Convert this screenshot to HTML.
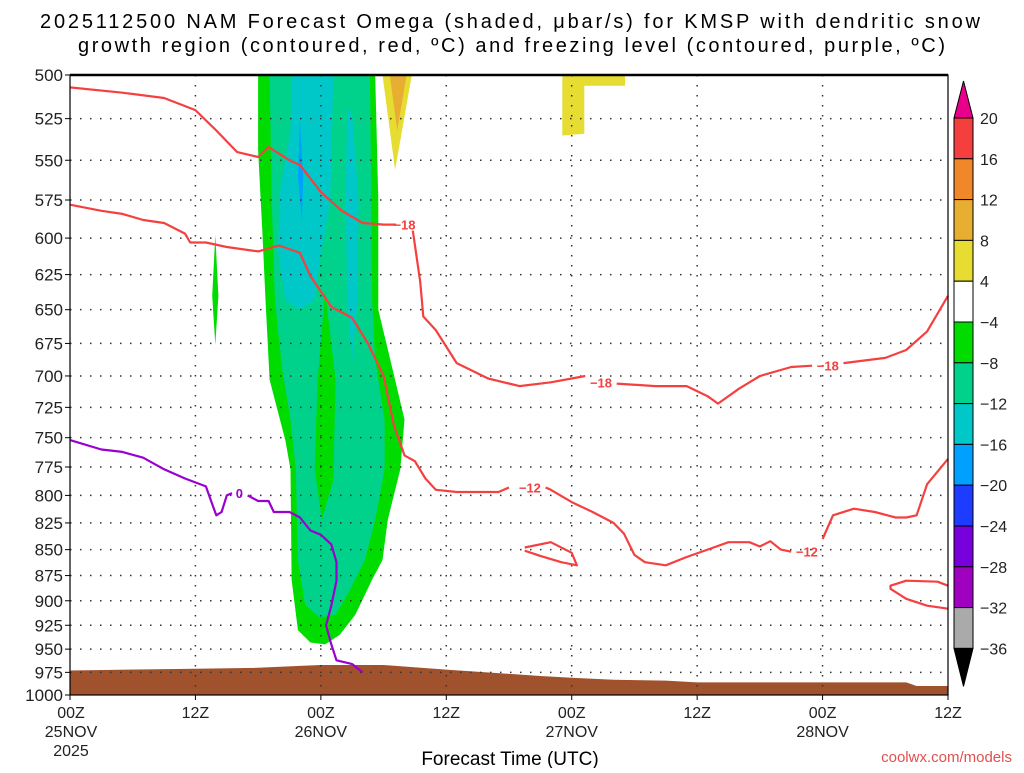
<!DOCTYPE html>
<html><head><meta charset="utf-8"><style>
body{margin:0;background:#fff;width:1024px;height:768px;overflow:hidden}
svg{font-family:"Liberation Sans",sans-serif}
</style></head><body>
<svg id="chart" width="1024" height="768" viewBox="0 0 1024 768" xmlns="http://www.w3.org/2000/svg">
<text x="40" y="28" font-size="20" textLength="940" lengthAdjust="spacing">2025112500 NAM Forecast Omega (shaded, μbar/s) for KMSP with dendritic snow</text>
<text x="78" y="52" font-size="20" textLength="867" lengthAdjust="spacing">growth region (contoured, red, ºC) and freezing level (contoured, purple, ºC)</text>
<g id="shade"></g><g id="terrain"></g><g id="grid"></g><g id="lines"></g><g id="axes"></g><g id="cbar"></g>
<text x="510" y="765" font-size="19" text-anchor="middle">Forecast Time (UTC)</text>
<text x="1012" y="762" font-size="15" fill="#e05050" text-anchor="end">coolwx.com/models</text>
</svg>
<script>
const pressureTicks=[500,525,550,575,600,625,650,675,700,725,750,775,800,825,850,875,900,925,950,975,1000];
const timeTicks=[0,12,24,36,48,60,72,84];
const timeLabels=[["00Z","25NOV","2025"],["12Z"],["00Z","26NOV"],["12Z"],["00Z","27NOV"],["12Z"],["00Z","28NOV"],["12Z"]];
const cbarLevels=[20,16,12,8,4,-4,-8,-12,-16,-20,-24,-28,-32,-36];
const cbarColors=["#f53f3f","#f0882a","#e8ae32","#e6dc32","#ffffff","#00dc00","#00d28c","#00c8c8","#00a0ff","#1e3cff","#7800dc","#a000c0","#aaaaaa"];
const shadeGreen=[[18,500],[29.2,500],[29.5,575],[29.5,650],[31.1,703],[32,735],[31.6,777],[30.4,822],[29.9,860],[28.9,879],[27.3,914],[25.8,935],[24.4,945],[23,943],[21.8,930],[21.2,879],[21.1,777],[20.6,752],[19.1,703],[18.7,643],[18.4,595],[18,544]];
const shadeGreenStrip=[[13.9,598],[14.2,640],[13.9,676],[13.6,640]];
const shadeSeagreen=[[19.1,500],[28.7,500],[28.9,643],[29.2,688],[30.1,735],[30.1,777],[29.2,822],[28.2,860],[26.8,889],[25.4,914],[23.9,917],[22.5,904],[21.8,860],[21.6,777],[21.1,735],[20.3,695],[19.6,643],[19.3,575]];
const shadeGreenInner=[[24.4,636],[25.4,703],[25.2,786],[24.1,822],[23.4,777],[23.7,703]];
const shadeCyan1=[[21.2,500],[25.2,500],[24.9,575],[23.9,615],[23.4,643],[22,650],[20.6,643],[19.9,608],[20.1,569],[21.1,532]];
const shadeCyan2=[[26.5,518],[27,523],[27.6,575],[27.5,643],[27,688],[26.5,643],[26.4,575]];
const shadeSky=[[22,526],[22.3,560],[22.2,589],[21.8,560]];
const shadeYellow1=[[29.9,500],[32.7,500],[31.1,556]];
const shadeGold1=[[30.6,500],[32.2,500],[31.3,532]];
const shadeYellow2=[[47.1,500],[53.1,500],[53.1,506],[49.2,506],[49.2,534],[47.1,535]];
const terrainTop=[[0,973],[12,971],[18,970],[22,968],[24,967],[30,967],[36,972],[45,979],[48,981],[52,983],[57,984],[60,986],[70,986],[80,986],[81,990],[84,990]];
const red18=[[0,507],[5,510],[9,513],[12,520],[14,532],[16,545],[18,548],[19,542],[21,550],[22,553],[24,570],[26,582],[28,590],[30,591],[31.2,591],null,[32.8,595],[33.5,630],[33.8,655],[35,665],[37,690],[40,702],[43,708],[46,705],[48,702],[49.3,700],null,[52.3,706],[56,708],[59,708],[61,716],[62,722],[64,710],[66,700],[69,693],[71,692],null,[74,690],[76,688],[78,686],[80,680],[82,666],[84,640]];
const red12=[[0,578],[3,582],[5,584],[7,588],[9,590],[11,597],[11.5,603],[13,603],[15,606],[18,609],[20,605],[22,610],[23,626],[25,648],[27,656],[28.5,675],[30,700],[31,740],[32,765],[33,770],[34,785],[35,795],[37,797],[39,797],[41,797],[42,793],null,[45.5,793],[46,795],[48,806],[50,815],[52,825],[53,835],[54,855],[55,862],[57,865],[59,857],[61,850],[63,843],[65,843],[66,847],[67,842],[68,850],[69,852],null,[72,840],[73,818],[75,812],[77,815],[79,820],[80,820],[81,818],[82,790],[84,768]];
const red12loop=[[43.5,848],[46,843],[48,853],[48.5,865],[47,862],[45,856],[43.5,851]];
const redRight1=[[84,885],[83,881],[80,880],[78.5,885],[78.5,888],[80,898],[82,905],[84,908]];
const purple0=[[0,752],[3,760],[5,762],[7,767],[9,777],[11,785],[13,792],[13.5,805],[14,818],[14.5,815],[15,800],[15.5,798],null,[17,800],[18,805],[19,805],[19.5,815],[21,815],[22,820],[23,832],[24,836],[25,845],[25.5,862],[25.5,880],[25,905],[24.5,925],[25,945],[25.5,962],[27,966],[28,975]];
const contourLabels=[["-18",32,591],["-18",50.8,705],["-18",72.5,692],["-12",44,793],["-12",70.5,852],["0",16.2,798]];

const X0=70,X1=948,Y0=75,Y1=695;
const x=h=>X0+h*(X1-X0)/84;
const y=p=>Y0+(Y1-Y0)*Math.log(p/500)/Math.log(2);
const NS="http://www.w3.org/2000/svg";
function mk(tag,parent,attrs){const e=document.createElementNS(NS,tag);for(const k in attrs)e.setAttribute(k,attrs[k]);document.getElementById(parent).appendChild(e);return e;}
function poly(pts){return pts.map(q=>x(q[0]).toFixed(1)+","+y(q[1]).toFixed(1)).join(" ");}
function pathD(pts){let d="",mv=true;for(const q of pts){if(!q){mv=true;continue;}d+=(mv?"M":"L")+x(q[0]).toFixed(1)+","+y(q[1]).toFixed(1);mv=false;}return d;}

const shades=[[shadeGreen,"#00dc00","shade-green"],[shadeGreenStrip,"#00dc00","shade-green-strip"],[shadeSeagreen,"#00d28c","shade-seagreen"],[shadeGreenInner,"#00dc00","shade-green-inner"],[shadeCyan1,"#00c8c8","shade-cyan-left"],[shadeCyan2,"#00c8c8","shade-cyan-right"],[shadeSky,"#00a0ff","shade-sky"],[shadeYellow1,"#e6dc32","shade-yellow-upper"],[shadeGold1,"#e8ae32","shade-gold-upper"],[shadeYellow2,"#e6dc32","shade-yellow-right"]];
for(const s of shades){const e=mk("polygon","shade",{points:poly(s[0]),fill:s[1]});

}

const tp=terrainTop.concat([[84,1000],[0,1000]]);
const te=mk("polygon","terrain",{points:poly(tp),fill:"#a0522d"});



for(const p of pressureTicks){if(p==500||p==1000)continue;const g=mk("line","grid",{x1:X0,x2:X1,y1:y(p),y2:y(p),stroke:"#333","stroke-width":1.5,"stroke-dasharray":"1.5 8.5"});

}
for(const t of timeTicks){if(t==0||t==84)continue;const g=mk("line","grid",{x1:x(t),x2:x(t),y1:Y0,y2:Y1,stroke:"#333","stroke-width":1.5,"stroke-dasharray":"1.5 8.5"});

}

const lines=[[red18,"#f54040","contour-minus18"],[red12,"#f54040","contour-minus12"],[red12loop,"#f54040","contour-minus12-loop"],[redRight1,"#f54040","contour-right"],[purple0,"#9a00d0","freezing-level-0"]];
for(const l of lines){const e=mk("path","lines",{d:pathD(l[0]),fill:"none",stroke:l[1],"stroke-width":2.2,"stroke-linejoin":"round"});

}
for(const c of contourLabels){const e=mk("text","lines",{x:x(c[1]),y:y(c[2])+5,"font-size":13,"font-weight":"bold","text-anchor":"middle",fill:c[0]=="0"?"#9a00d0":"#f54040"});e.textContent=c[0].replace("-","−");

}

const ax=mk("rect","axes",{x:X0,y:Y0,width:X1-X0,height:Y1-Y0,fill:"none",stroke:"#000","stroke-width":1.2});


const tl=mk("line","axes",{x1:X0,x2:X1,y1:Y0,y2:Y0,stroke:"#000","stroke-width":2.5});


for(const p of pressureTicks){const t=mk("text","axes",{x:63,y:y(p)+6,"font-size":17,"text-anchor":"end",fill:"#222"});t.textContent=p;


const k=mk("line","axes",{x1:X0-5,x2:X0,y1:y(p),y2:y(p),stroke:"#000"});

}
timeTicks.forEach((t,i)=>{timeLabels[i].forEach((s,j)=>{const e=mk("text","axes",{x:x(t)+(i==0?1:0),y:718+j*19,"font-size":16,"text-anchor":"middle",fill:"#222"});e.textContent=s;

});
const k=mk("line","axes",{x1:x(t),x2:x(t),y1:Y1,y2:Y1+5,stroke:"#000"});

});

const CX=954,CW=19,CT=118,STEP=40.8;
cbarColors.forEach((c,i)=>{const r=mk("rect","cbar",{x:CX,y:CT+i*STEP,width:CW,height:STEP,fill:c,stroke:"#000","stroke-width":1});

});
const up=mk("polygon","cbar",{points:`${CX},${CT} ${CX+CW},${CT} ${CX+CW/2},${CT-37}`,fill:"#e8008c",stroke:"#000"});


const yb=CT+cbarColors.length*STEP;
const dn=mk("polygon","cbar",{points:`${CX},${yb} ${CX+CW},${yb} ${CX+CW/2},${yb+38}`,fill:"#000",stroke:"#000"});


cbarLevels.forEach((v,i)=>{const t=mk("text","cbar",{x:980,y:CT+i*STEP+6,"font-size":16,fill:"#222"});t.textContent=v<0?"−"+(-v):v;

});
</script>
</body></html>
